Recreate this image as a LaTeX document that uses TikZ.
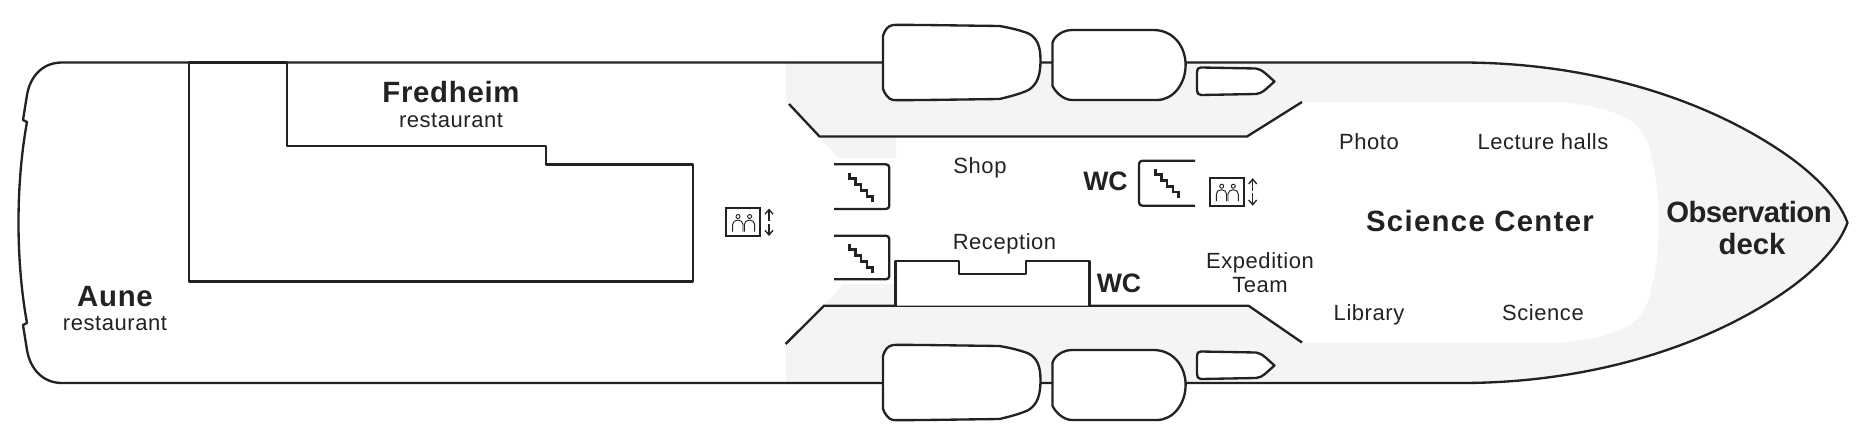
\documentclass[tikz,border=0pt]{standalone}
\usepackage{fontspec}
\usetikzlibrary{arrows.meta}
\setmainfont{Liberation Sans}
\definecolor{ink}{HTML}{222222}
\definecolor{deckgrey}{HTML}{F4F4F4}
\newcommand{\lbl}[2][2.5]{\addfontfeatures{LetterSpace=#1}#2}
\tikzset{
  line/.style={draw=ink,line width=1.75pt,line join=round},
  thin line/.style={draw=ink,line width=1.1pt},
  stairline/.style={draw=ink,line width=2pt,line join=miter},
  room/.style={text=ink,inner sep=0pt,anchor=base,align=center,font=\fontsize{16.5}{21}\selectfont},
  title/.style={text=ink,inner sep=0pt,anchor=base,align=center,font=\fontsize{22}{29.5}\selectfont\bfseries},
  wc/.style={text=ink,inner sep=0pt,anchor=base,font=\fontsize{20}{24}\selectfont\bfseries}
}
\newcommand{\stairglyph}[2]{%
  \draw[stairline] (#1,#2) -- ++(0,5.9) -- ++(5.8,0) -- ++(0,5.9) -- ++(5.8,0) -- ++(0,5.9) -- ++(5.8,0) -- ++(0,5.9) -- ++(5.8,0) -- ++(0,5.9);
}
\newcommand{\liftglyph}[2]{%
  \begin{scope}[shift={(#1,#2)}]
    \draw[draw=ink,line width=1.3pt,fill=white] (0,0) rectangle (34,28);
    \draw[thin line,line width=0.7pt] (11.7,8.5) circle (2);
    \draw[thin line,line width=0.7pt] (23.3,8.5) circle (2);
    \draw[thin line,line width=0.7pt] (6.3,23.5) -- (6.3,16.5) arc[start angle=180,end angle=360,x radius=5.2,y radius=4.5] -- (16.7,23.5);
    \draw[thin line,line width=0.7pt] (18,23.5) -- (18,16.5) arc[start angle=180,end angle=360,x radius=5.2,y radius=4.5] -- (28.4,23.5);
    \draw[draw=ink,line width=1pt,-{Straight Barb[length=3.5pt,width=6pt]}] (42.7,13) -- (42.7,0.5);
    \draw[draw=ink,line width=1pt,-{Straight Barb[length=3.5pt,width=6pt]}] (42.7,15.5) -- (42.7,28);
  \end{scope}
}
\newcommand{\bigboat}[1]{%
  \draw[line,fill=white,shift={(0,#1)}] (893,25) .. controls (900,24.5) and (960,25.5) .. (999.5,26)
   .. controls (1008,27.5) and (1020,30) .. (1028.5,33.5)
   .. controls (1037,38) and (1040.5,46) .. (1040.5,60)
   .. controls (1040.5,74) and (1038,84) .. (1028.5,90)
   .. controls (1020,94) and (1008,97) .. (999.5,99)
   .. controls (960,99.5) and (900,100.5) .. (893,100)
   .. controls (888,99) and (885,94) .. (883,89)
   -- (883,36) .. controls (885,29) and (888,26) .. (893,25) -- cycle;
}
\newcommand{\midboat}[1]{%
  \draw[line,fill=white,shift={(0,#1)}] (1072,30) -- (1153.5,30)
   .. controls (1173,30) and (1185.6,46) .. (1185.6,65)
   .. controls (1185.6,84) and (1173,100) .. (1157,100)
   -- (1072,100) .. controls (1064,100) and (1056,93) .. (1052.5,86)
   -- (1052.5,43) .. controls (1054,36) and (1063,30) .. (1072,30) -- cycle;
}
\newcommand{\tender}[1]{%
  \draw[line,fill=white,shift={(0,#1)}] (1201,67.5) -- (1256,68.5)
   .. controls (1262,69) and (1268,76) .. (1274.5,81.5)
   .. controls (1268,87) and (1262,94) .. (1256,94)
   -- (1201,95) .. controls (1198,95) and (1197,93) .. (1197,90)
   -- (1197,72) .. controls (1197,69) and (1198,67.5) .. (1201,67.5) -- cycle;
}
\begin{document}
\begin{tikzpicture}[x=0.75pt,y=-0.75pt]
\useasboundingbox (0,0) rectangle (1863,446);
% grey deck
\fill[deckgrey,even odd rule]
  (786,62.5) -- (1464,62.5)
  .. controls (1590,63) and (1700,98) .. (1776.7,148.3)
  .. controls (1808,168.5) and (1838,196) .. (1847.5,222.7)
  .. controls (1838,249.5) and (1808,277) .. (1776.7,297.2)
  .. controls (1700,347.5) and (1590,382.5) .. (1464,383)
  -- (786,383) -- (786,344) -- (824,305.7) -- (1248.5,305.7) -- (1302,342.5)
  -- (1560,342.5) .. controls (1590,340) and (1612,335) .. (1628,326)
  .. controls (1645,315) and (1650,300) .. (1652,285)
  .. controls (1661,255) and (1661,190) .. (1652,160)
  .. controls (1650,145) and (1645,130) .. (1628,119)
  .. controls (1612,110) and (1590,105) .. (1560,102)
  -- (1302,102) -- (1247,136.5) -- (819.5,136.5) -- (789,104) -- (786,104) -- cycle;
\fill[deckgrey] (819.5,136.5) -- (896,136.5) -- (896,158) -- (838,158) -- cycle;
\fill[deckgrey] (843,284) -- (895,284) -- (895,305.7) -- (824,305.7) -- cycle;
% hull
\draw[line] (62,62.5) -- (1464,62.5)
  .. controls (1590,63) and (1700,98) .. (1776.7,148.3)
  .. controls (1808,168.5) and (1838,196) .. (1847.5,222.7)
  .. controls (1838,249.5) and (1808,277) .. (1776.7,297.2)
  .. controls (1700,347.5) and (1590,382.5) .. (1464,383)
  -- (62,383)
  .. controls (42,383) and (30,368) .. (27,350)
  -- (23,325) -- (27,323)
  .. controls (21,290) and (18.5,255) .. (18.5,222.7)
  .. controls (18.5,190) and (21,155) .. (27,122)
  -- (23,120) -- (27,95)
  .. controls (30,77) and (42,62.5) .. (62,62.5) -- cycle;
% restaurant wall
\draw[line] (189,62.5) -- (189,281.5) -- (692.8,281.5) -- (692.8,164.5) -- (546,164.5) -- (546,146) -- (287,146) -- (287,62.5) -- cycle;
% deck lines
\draw[line] (789,104) -- (819.5,136.5) -- (1247,136.5) -- (1302,102);
\draw[line] (785.6,344) -- (824,305.7) -- (1248.5,305.7) -- (1302,342.5);
% reception
\draw[line,fill=white] (895.5,305.7) -- (895.5,260.7) -- (959.3,260.7) -- (959.3,274) -- (1026,274) -- (1026,260.7) -- (1089.6,260.7) -- (1089.6,305.7);
% boats
\bigboat{0}\midboat{0}\tender{0}
\bigboat{320}\midboat{320}\tender{284}
% stairs
\draw[line,rounded corners=2.5pt] (834,164.3) -- (889.3,164.3) -- (889.3,209) -- (834,209);
\draw[line,rounded corners=2.5pt] (834,235.7) -- (889.3,235.7) -- (889.3,279.3) -- (834,279.3);
\draw[line,rounded corners=2.5pt] (1195,160.7) -- (1139,160.7) -- (1139,205.7) -- (1195,205.7);
\stairglyph{849.5}{172.7}
\stairglyph{849.5}{243.7}
\stairglyph{1155.5}{168.5}
% lifts
\liftglyph{726.3}{208}
\liftglyph{1210}{177.7}
% labels
\node[title] (fredheim) at (451,102.7) {\lbl{Fredheim}};
\node[room] (fredheimsub) at (451,127) {\lbl{restaurant}};
\node[title] (aune) at (115,306) {\lbl{Aune}};
\node[room] (aunesub) at (115,330) {\lbl{restaurant}};
\node[room] (shop) at (980,173) {\lbl{Shop}};
\node[room] (reception) at (1004.5,249) {\lbl{Reception}};
\node[wc] (wcupper) at (1105.5,190) {WC};
\node[wc] (wclower) at (1119,292.7) {WC};
\node[room] (expedition) at (1260,268.5) {\lbl{Expedition}};
\node[room] (team) at (1260,292) {\lbl{Team}};
\node[room] (photo) at (1369,149) {\lbl{Photo}};
\node[room] (lecture) at (1543,149) {\lbl{Lecture halls}};
\node[title] (science) at (1480,231.7) {\lbl[4.5]{Science Center}};
\node[title] (observation) at (1749,222.7) {\lbl[-2]{Observation}};
\node[title] (deck) at (1752,254) {\lbl[0]{deck}};
\node[room] (library) at (1369,320.5) {\lbl{Library}};
\node[room] (sciencelab) at (1543,320.5) {\lbl{Science}};
\end{tikzpicture}
\end{document}
